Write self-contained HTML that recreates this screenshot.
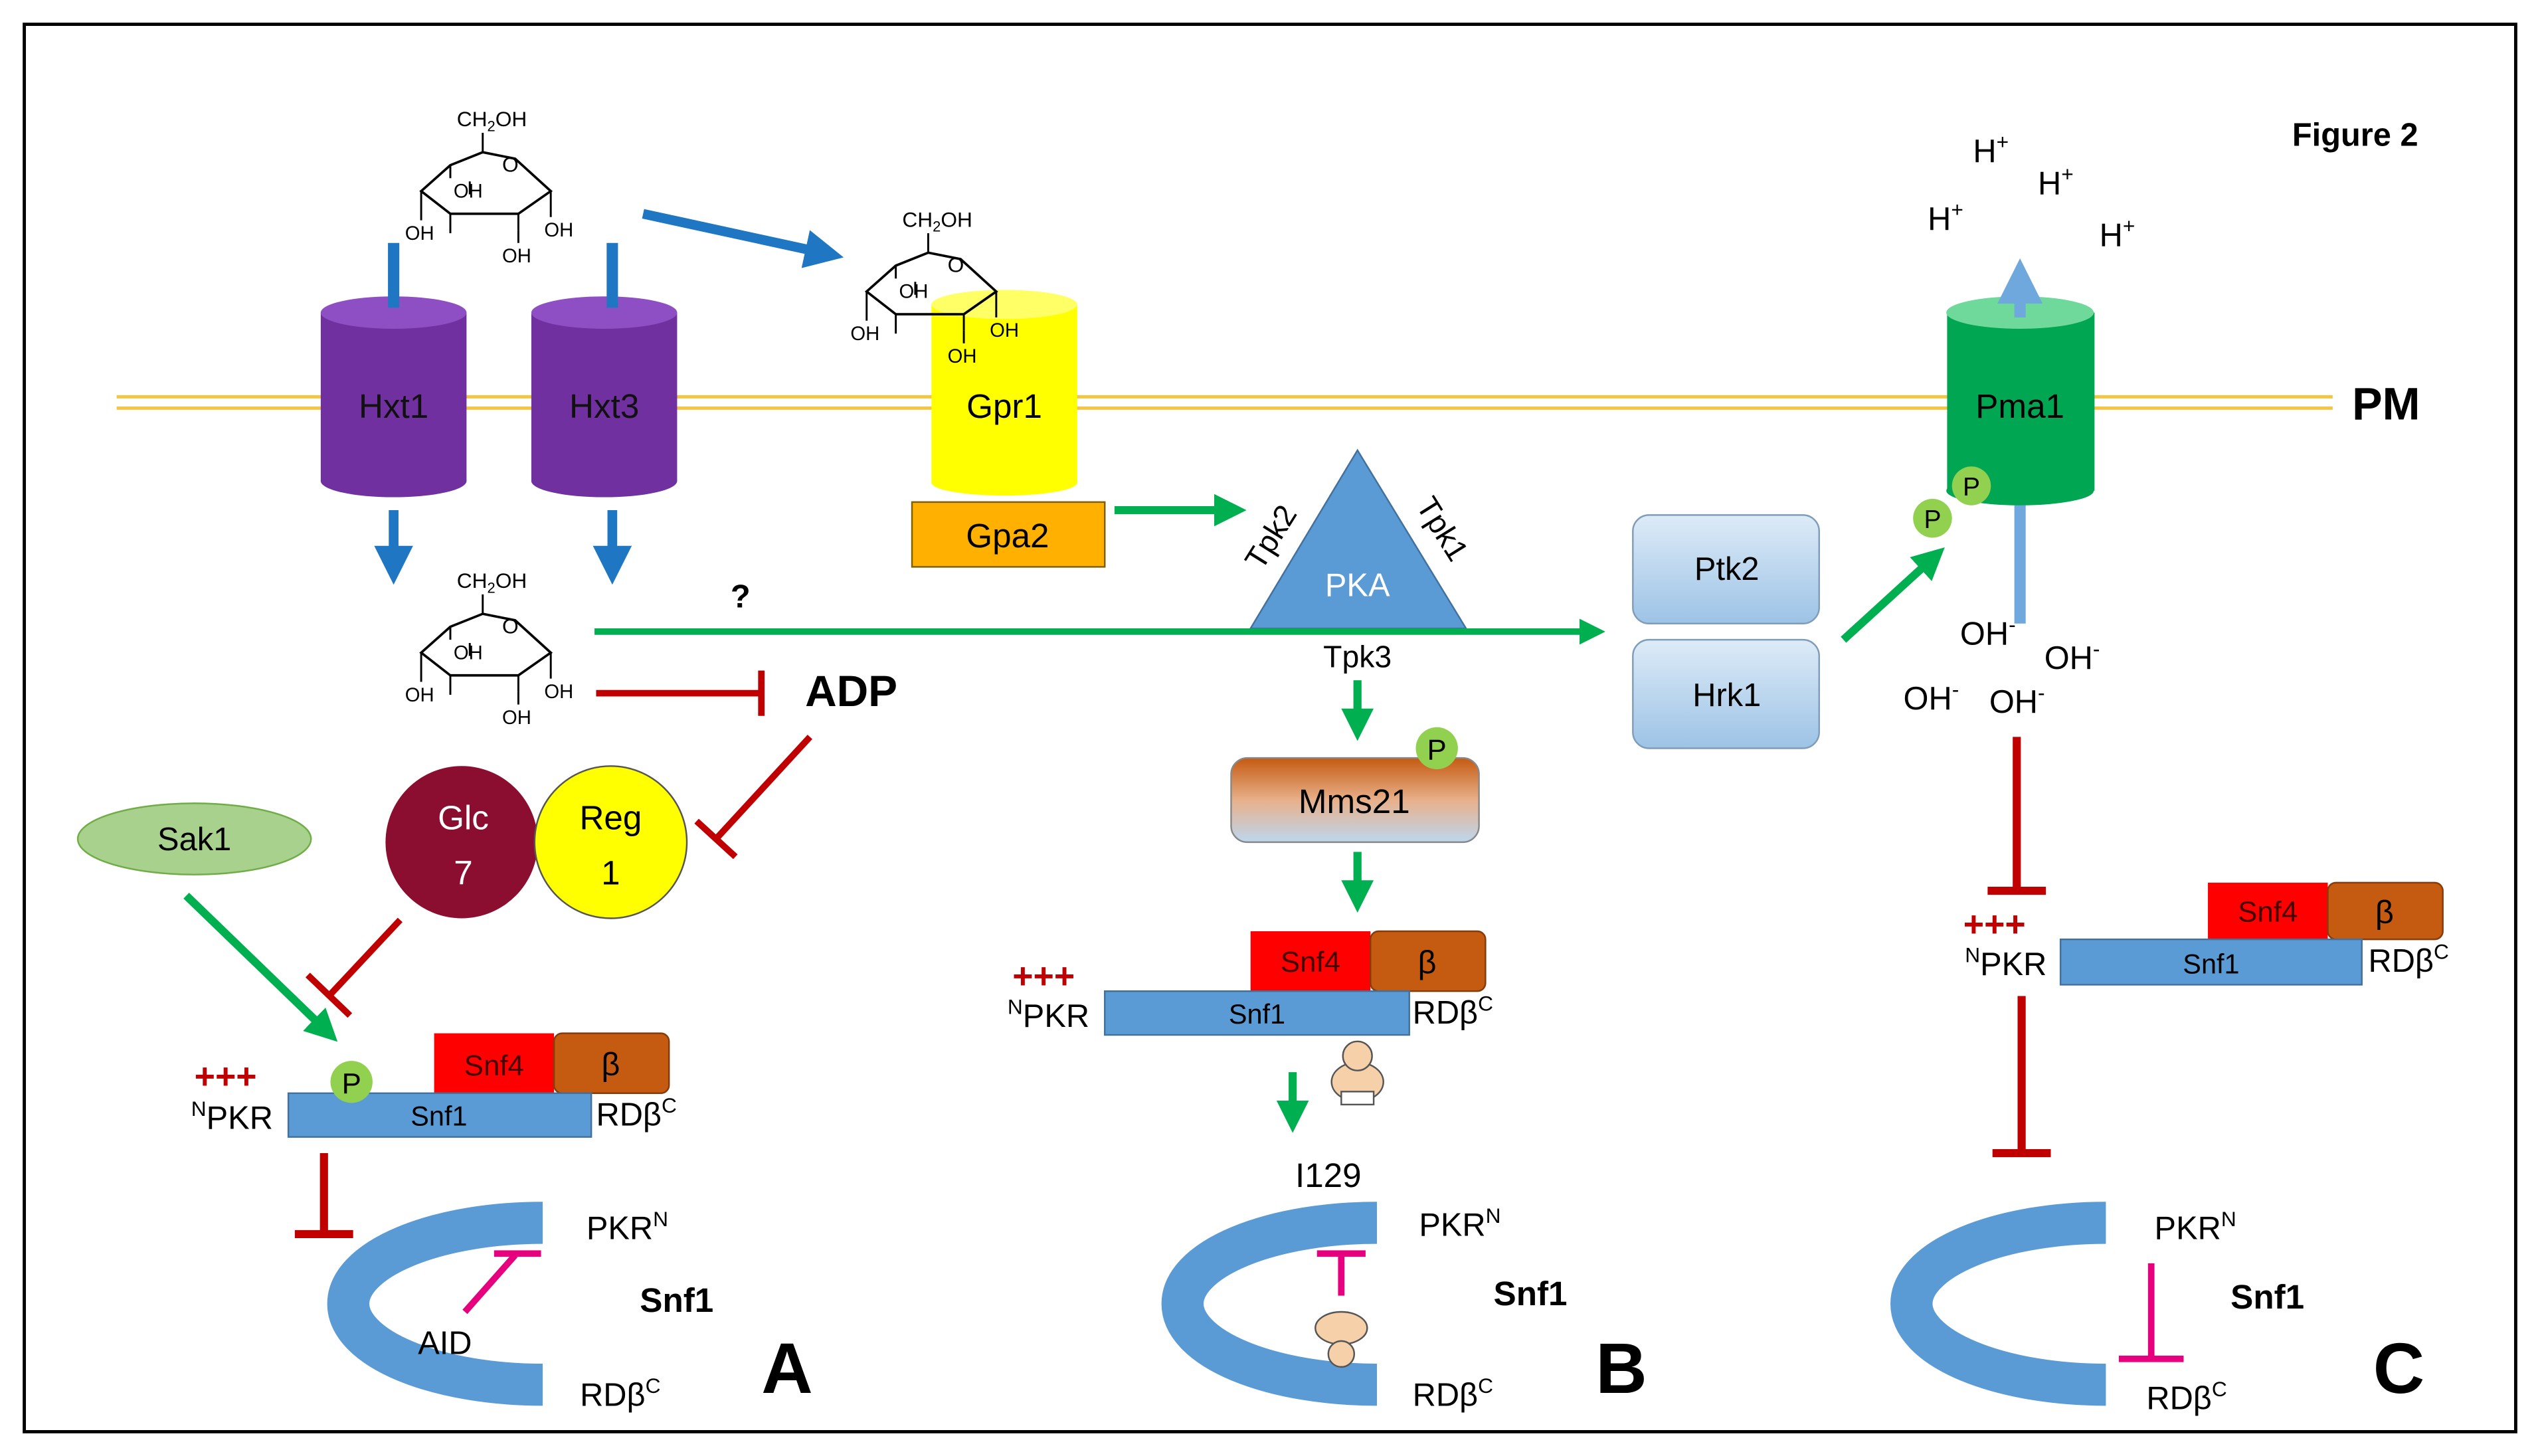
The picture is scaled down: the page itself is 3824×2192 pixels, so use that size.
<!DOCTYPE html>
<html><head><meta charset="utf-8"><style>
html,body{margin:0;padding:0;background:#fff}
svg{display:block}
text{font-family:"Liberation Sans",sans-serif}
</style></head><body>
<svg width="3824" height="2192" viewBox="0 0 1568 899" preserveAspectRatio="none" xmlns="http://www.w3.org/2000/svg">
<defs>
<marker id="gA" markerWidth="4" markerHeight="4" refX="2.5" refY="2" orient="auto"><path d="M0,0 L4,2 L0,4 z" fill="#00B050"/></marker>
<marker id="bA" markerWidth="4" markerHeight="4" refX="2.5" refY="2" orient="auto"><path d="M0,0 L4,2 L0,4 z" fill="#1F77C4"/></marker>
<marker id="lbA" markerWidth="4" markerHeight="4" refX="2.5" refY="2" orient="auto"><path d="M0,0 L4,2 L0,4 z" fill="#6FA8DC"/></marker>
<linearGradient id="pk" x1="0" y1="0" x2="0" y2="1"><stop offset="0" stop-color="#DDEBF7"/><stop offset="1" stop-color="#9DC3E6"/></linearGradient>
<linearGradient id="mm" x1="0" y1="0" x2="0" y2="1"><stop offset="0" stop-color="#C55A11"/><stop offset="0.5" stop-color="#E8B08A"/><stop offset="1" stop-color="#BDD7EE"/></linearGradient>
<g id="glc">
<text x="-18" y="-32" font-size="13">CH<tspan font-size="9" dy="3">2</tspan><tspan dy="-3">OH</tspan></text>
<path d="M-2,-28 L-2,-16" stroke="#000" stroke-width="1.2"/>
<path d="M-40,8 L-22,-8 L-2,-16 L18,-12 L40,8 L20,22 L-22,22 Z" fill="none" stroke="#000" stroke-width="1.5"/>
<text x="10" y="-4" font-size="13">O</text>
<path d="M-40,8 L-40,26 M-22,22 L-22,34 M20,22 L20,32 M40,8 L40,24 M-10,10 L-10,2 M-22,-8 L-22,0" stroke="#000" stroke-width="1.2"/>
<text x="-50" y="38" font-size="12">OH</text>
<text x="-20" y="12" font-size="12">OH</text>
<text x="36" y="36" font-size="12">OH</text>
<text x="10" y="52" font-size="12">OH</text>
<path d="M20,32 L20,40" stroke="#000" stroke-width="1.2"/>
</g>
</defs>
<rect x="15" y="15" width="1538" height="869" fill="#fff" stroke="#000" stroke-width="2"/>
<text x="1415" y="90" font-size="20" font-weight="bold">Figure 2</text>
<line x1="72" y1="245" x2="1440" y2="245" stroke="#F4C542" stroke-width="2"/>
<line x1="72" y1="252" x2="1440" y2="252" stroke="#F4C542" stroke-width="2"/>
<text x="1452" y="259" font-size="28" font-weight="bold">PM</text>
<use href="#glc" x="300" y="110"/>
<use href="#glc" x="300" y="395"/>
<g>
<rect x="198" y="193" width="90" height="104" fill="#7030A0"/>
<ellipse cx="243" cy="297" rx="45" ry="10" fill="#7030A0"/>
<ellipse cx="243" cy="193" rx="45" ry="10" fill="#8E4FC4"/>
<text x="243" y="258" font-size="21" text-anchor="middle" fill="#111">Hxt1</text>
<rect x="328" y="193" width="90" height="104" fill="#7030A0"/>
<ellipse cx="373" cy="297" rx="45" ry="10" fill="#7030A0"/>
<ellipse cx="373" cy="193" rx="45" ry="10" fill="#8E4FC4"/>
<text x="373" y="258" font-size="21" text-anchor="middle" fill="#111">Hxt3</text>
</g>
<line x1="243" y1="150" x2="243" y2="190" stroke="#1F77C4" stroke-width="7"/>
<line x1="378" y1="150" x2="378" y2="190" stroke="#1F77C4" stroke-width="7"/>
<line x1="243" y1="315" x2="243" y2="352" stroke="#1F77C4" stroke-width="6" marker-end="url(#bA)"/>
<line x1="378" y1="315" x2="378" y2="352" stroke="#1F77C4" stroke-width="6" marker-end="url(#bA)"/>
<line x1="397" y1="132" x2="512" y2="157" stroke="#1F77C4" stroke-width="6" marker-end="url(#bA)"/>
<rect x="575" y="188" width="90" height="110" fill="#FFFF00"/>
<ellipse cx="620" cy="298" rx="45" ry="8" fill="#FFFF00"/>
<ellipse cx="620" cy="188" rx="45" ry="9" fill="#FFFF66"/>
<use href="#glc" x="575" y="172"/>
<text x="620" y="258" font-size="21" text-anchor="middle">Gpr1</text>
<rect x="563" y="310" width="119" height="40" fill="#FFB000" stroke="#7F6000" stroke-width="1"/>
<text x="622" y="338" font-size="21" text-anchor="middle">Gpa2</text>
<line x1="688" y1="315" x2="762" y2="315" stroke="#00B050" stroke-width="5" marker-end="url(#gA)"/>
<polygon points="838,278 772,388 905,388" fill="#5B9BD5" stroke="#41719C" stroke-width="1"/>
<text x="838" y="368" font-size="20" text-anchor="middle" fill="#fff">PKA</text>
<text x="790" y="335" font-size="19" transform="rotate(-58 790 335)" text-anchor="middle">Tpk2</text>
<text x="885" y="330" font-size="19" transform="rotate(58 885 330)" text-anchor="middle">Tpk1</text>
<text x="838" y="412" font-size="19" text-anchor="middle">Tpk3</text>
<line x1="367" y1="390" x2="985" y2="390" stroke="#00B050" stroke-width="4" marker-end="url(#gA)"/>
<text x="451" y="375" font-size="20" font-weight="bold">?</text>
<rect x="1008" y="318" width="115" height="67" rx="10" fill="url(#pk)" stroke="#7F9DB9"/>
<text x="1066" y="358" font-size="20" text-anchor="middle">Ptk2</text>
<rect x="1008" y="395" width="115" height="67" rx="10" fill="url(#pk)" stroke="#7F9DB9"/>
<text x="1066" y="436" font-size="20" text-anchor="middle">Hrk1</text>
<line x1="1138" y1="395" x2="1195" y2="343" stroke="#00B050" stroke-width="5" marker-end="url(#gA)"/>
<line x1="1247" y1="385" x2="1247" y2="300" stroke="#6FA8DC" stroke-width="7"/>
<rect x="1202" y="193" width="91" height="110" fill="#00A651"/>
<ellipse cx="1247" cy="303" rx="45.5" ry="9" fill="#00A651"/>
<ellipse cx="1247" cy="193" rx="45.5" ry="10" fill="#6FD99B"/>
<line x1="1247" y1="196" x2="1247" y2="170" stroke="#6FA8DC" stroke-width="7" marker-end="url(#lbA)"/>
<text x="1247" y="258" font-size="21" text-anchor="middle">Pma1</text>
<circle cx="1217" cy="300" r="12" fill="#92D050"/><text x="1217" y="306" font-size="16" text-anchor="middle">P</text>
<circle cx="1193" cy="320" r="12" fill="#92D050"/><text x="1193" y="326" font-size="16" text-anchor="middle">P</text>
<text x="1218" y="100" font-size="20">H<tspan font-size="13" dy="-8">+</tspan></text>
<text x="1258" y="120" font-size="20">H<tspan font-size="13" dy="-8">+</tspan></text>
<text x="1190" y="142" font-size="20">H<tspan font-size="13" dy="-8">+</tspan></text>
<text x="1296" y="152" font-size="20">H<tspan font-size="13" dy="-8">+</tspan></text>
<text x="1210" y="398" font-size="20">OH<tspan font-size="13" dy="-8">-</tspan></text>
<text x="1262" y="413" font-size="20">OH<tspan font-size="13" dy="-8">-</tspan></text>
<text x="1175" y="438" font-size="20">OH<tspan font-size="13" dy="-8">-</tspan></text>
<text x="1228" y="440" font-size="20">OH<tspan font-size="13" dy="-8">-</tspan></text>
<line x1="368" y1="428" x2="470" y2="428" stroke="#C00000" stroke-width="4"/>
<line x1="470" y1="414" x2="470" y2="442" stroke="#C00000" stroke-width="4"/>
<text x="497" y="436" font-size="27" font-weight="bold">ADP</text>
<line x1="500" y1="455" x2="442" y2="518" stroke="#C00000" stroke-width="4"/>
<line x1="430" y1="507" x2="454" y2="529" stroke="#C00000" stroke-width="4"/>
<circle cx="285" cy="520" r="47" fill="#8B0D2F"/>
<text x="286" y="512" font-size="21" text-anchor="middle" fill="#fff">Glc</text>
<text x="286" y="546" font-size="21" text-anchor="middle" fill="#fff">7</text>
<circle cx="377" cy="520" r="47" fill="#FFFF00" stroke="#555" stroke-width="1"/>
<text x="377" y="512" font-size="21" text-anchor="middle">Reg</text>
<text x="377" y="546" font-size="21" text-anchor="middle">1</text>
<ellipse cx="120" cy="518" rx="72" ry="22" fill="#A9D18E" stroke="#70AD47"/>
<text x="120" y="525" font-size="20" text-anchor="middle">Sak1</text>
<line x1="115" y1="553" x2="203" y2="638" stroke="#00B050" stroke-width="5" marker-end="url(#gA)"/>
<line x1="247" y1="568" x2="203" y2="615" stroke="#C00000" stroke-width="4"/>
<line x1="190" y1="602" x2="216" y2="627" stroke="#C00000" stroke-width="4"/>
<rect x="268" y="638" width="74" height="37" fill="#FF0000"/>
<text x="305" y="664" font-size="18" text-anchor="middle" fill="#400">Snf4</text>
<rect x="342" y="638" width="71" height="37" rx="5" fill="#C55A11" stroke="#843C0C"/>
<text x="377" y="664" font-size="20" text-anchor="middle">β</text>
<rect x="178" y="675" width="187" height="27" fill="#5B9BD5" stroke="#41719C"/>
<text x="271" y="695" font-size="17" text-anchor="middle">Snf1</text>
<circle cx="217" cy="668" r="13" fill="#92D050"/><text x="217" y="675" font-size="18" text-anchor="middle">P</text>
<text x="120" y="672" font-size="22" fill="#C00000" font-weight="bold">+++</text>
<text x="118" y="697" font-size="20"><tspan font-size="13" dy="-8">N</tspan><tspan dy="8">PKR</tspan></text>
<text x="368" y="695" font-size="20">RDβ<tspan font-size="13" dy="-8">C</tspan></text>
<line x1="200" y1="712" x2="200" y2="760" stroke="#C00000" stroke-width="5"/>
<line x1="182" y1="762" x2="218" y2="762" stroke="#C00000" stroke-width="5"/>
<path d="M335,755 A120,50 0 0 0 335,855" fill="none" stroke="#5B9BD5" stroke-width="26"/>
<line x1="287" y1="810" x2="318" y2="775" stroke="#E6007E" stroke-width="4"/>
<line x1="305" y1="774" x2="334" y2="774" stroke="#E6007E" stroke-width="4"/>
<text x="258" y="836" font-size="20">AID</text>
<text x="362" y="765" font-size="20">PKR<tspan font-size="13" dy="-8">N</tspan></text>
<text x="395" y="810" font-size="21" font-weight="bold">Snf1</text>
<text x="358" y="868" font-size="20">RDβ<tspan font-size="13" dy="-8">C</tspan></text>
<text x="470" y="860" font-size="44" font-weight="bold">A</text>
<line x1="838" y1="420" x2="838" y2="450" stroke="#00B050" stroke-width="5" marker-end="url(#gA)"/>
<rect x="760" y="468" width="153" height="52" rx="10" fill="url(#mm)" stroke="#888"/>
<text x="836" y="502" font-size="21" text-anchor="middle">Mms21</text>
<circle cx="887" cy="462" r="13" fill="#92D050"/><text x="887" y="469" font-size="18" text-anchor="middle">P</text>
<line x1="838" y1="526" x2="838" y2="556" stroke="#00B050" stroke-width="5" marker-end="url(#gA)"/>
<rect x="772" y="575" width="74" height="37" fill="#FF0000"/>
<text x="809" y="600" font-size="18" text-anchor="middle" fill="#400">Snf4</text>
<rect x="846" y="575" width="71" height="37" rx="5" fill="#C55A11" stroke="#843C0C"/>
<text x="881" y="601" font-size="20" text-anchor="middle">β</text>
<rect x="682" y="612" width="188" height="27" fill="#5B9BD5" stroke="#41719C"/>
<text x="776" y="632" font-size="17" text-anchor="middle">Snf1</text>
<text x="625" y="610" font-size="22" fill="#C00000" font-weight="bold">+++</text>
<text x="622" y="634" font-size="20"><tspan font-size="13" dy="-8">N</tspan><tspan dy="8">PKR</tspan></text>
<text x="872" y="632" font-size="20">RDβ<tspan font-size="13" dy="-8">C</tspan></text>
<g transform="translate(838,660)">
<ellipse cx="0" cy="8" rx="16" ry="12" fill="#F5D0A9" stroke="#555"/>
<circle cx="0" cy="-8" r="9" fill="#F5D0A9" stroke="#555"/>
<rect x="-10" y="14" width="20" height="8" fill="#fff" stroke="#555"/>
</g>
<line x1="798" y1="662" x2="798" y2="692" stroke="#00B050" stroke-width="5" marker-end="url(#gA)"/>
<text x="820" y="733" font-size="21" text-anchor="middle">I129</text>
<path d="M850,755 A120,50 0 0 0 850,855" fill="none" stroke="#5B9BD5" stroke-width="26"/>
<line x1="828" y1="800" x2="828" y2="774" stroke="#E6007E" stroke-width="4"/>
<line x1="813" y1="774" x2="843" y2="774" stroke="#E6007E" stroke-width="4"/>
<g transform="translate(828,826)">
<ellipse cx="0" cy="-6" rx="16" ry="10" fill="#F5D0A9" stroke="#555"/>
<circle cx="0" cy="10" r="8" fill="#F5D0A9" stroke="#555"/>
</g>
<text x="876" y="763" font-size="20">PKR<tspan font-size="13" dy="-8">N</tspan></text>
<text x="922" y="806" font-size="21" font-weight="bold">Snf1</text>
<text x="872" y="868" font-size="20">RDβ<tspan font-size="13" dy="-8">C</tspan></text>
<text x="985" y="860" font-size="44" font-weight="bold">B</text>
<line x1="1245" y1="455" x2="1245" y2="548" stroke="#C00000" stroke-width="5"/>
<line x1="1227" y1="550" x2="1263" y2="550" stroke="#C00000" stroke-width="5"/>
<rect x="1363" y="545" width="74" height="35" fill="#FF0000"/>
<text x="1400" y="569" font-size="18" text-anchor="middle" fill="#400">Snf4</text>
<rect x="1437" y="545" width="71" height="35" rx="5" fill="#C55A11" stroke="#843C0C"/>
<text x="1472" y="570" font-size="20" text-anchor="middle">β</text>
<rect x="1272" y="580" width="186" height="28" fill="#5B9BD5" stroke="#41719C"/>
<text x="1365" y="601" font-size="17" text-anchor="middle">Snf1</text>
<text x="1212" y="578" font-size="22" fill="#C00000" font-weight="bold">+++</text>
<text x="1213" y="602" font-size="20"><tspan font-size="13" dy="-8">N</tspan><tspan dy="8">PKR</tspan></text>
<text x="1462" y="600" font-size="20">RDβ<tspan font-size="13" dy="-8">C</tspan></text>
<line x1="1248" y1="615" x2="1248" y2="710" stroke="#C00000" stroke-width="5"/>
<line x1="1230" y1="712" x2="1266" y2="712" stroke="#C00000" stroke-width="5"/>
<path d="M1300,755 A120,50 0 0 0 1300,855" fill="none" stroke="#5B9BD5" stroke-width="26"/>
<line x1="1328" y1="780" x2="1328" y2="838" stroke="#E6007E" stroke-width="4"/>
<line x1="1308" y1="839" x2="1348" y2="839" stroke="#E6007E" stroke-width="4"/>
<text x="1330" y="765" font-size="20">PKR<tspan font-size="13" dy="-8">N</tspan></text>
<text x="1377" y="808" font-size="21" font-weight="bold">Snf1</text>
<text x="1325" y="870" font-size="20">RDβ<tspan font-size="13" dy="-8">C</tspan></text>
<text x="1465" y="860" font-size="44" font-weight="bold">C</text>
</svg>
</body></html>
